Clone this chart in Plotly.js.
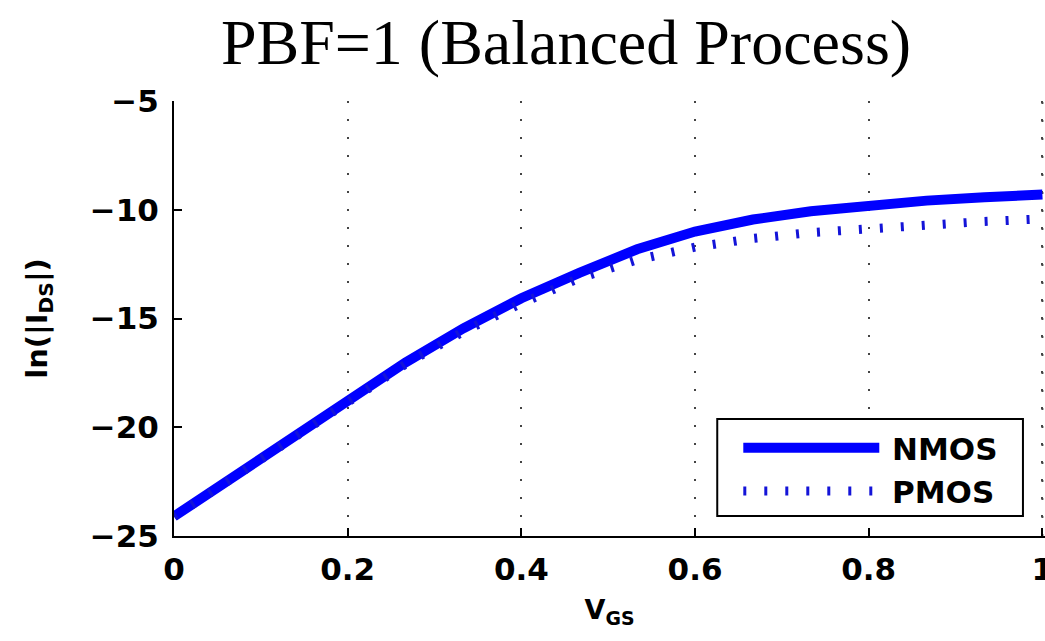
<!DOCTYPE html>
<html>
<head>
<meta charset="utf-8">
<script src="https://cdn.plot.ly/plotly-3.0.1.min.js"></script>
<style>html,body{margin:0;padding:0;background:#fff;}#chart{width:1045px;height:641px;}</style>
</head>
<body>
<div id="chart"></div>
<script>
// V_GS sample points
const vgs = [0, 0.0667, 0.1333, 0.2, 0.2667, 0.3333, 0.4, 0.4667, 0.5333, 0.6, 0.6667, 0.7333, 0.8, 0.8667, 0.9333, 1.0];
// ln(|I_DS|) values
const nmos = [-24.1, -22.34, -20.58, -18.82, -17.02, -15.45, -14.07, -12.9, -11.82, -11.0, -10.45, -10.07, -9.78, -9.58, -9.43, -9.3];
const pmos = [-24.1, -22.34, -20.58, -18.82, -17.1, -15.6, -14.3, -13.15, -12.3, -11.72, -11.32, -11.05, -10.85, -10.68, -10.54, -10.42];
const xTicks = [0, 0.2, 0.4, 0.6, 0.8, 1];
const xTickText = ['0', '0.2', '0.4', '0.6', '0.8', '1'];
const yTicks = [-25, -20, -15, -10, -5];
const yTickText = ['\u221225', '\u221220', '\u221215', '\u221210', '\u22125'];

const sans = 'DejaVu Sans, Verdana, sans-serif';
const PX = v => (v - 174) / 869;       // pixel helpers for legend box placement
const PY = v => (536 - v) / 435;

const traces = [
  {x: vgs, y: nmos, mode: 'lines', name: '\u2005<b>NMOS</b>',
   line: {color: '#0000ff', width: 10}},
  {x: vgs, y: pmos, mode: 'lines', name: '\u2005<b>PMOS</b>',
   line: {color: '#1414d8', width: 9, dash: '3px,18px'}}
];

const gridShapes = xTicks.slice(-1).map(v => ({
  type: 'line', xref: 'x', yref: 'paper', layer: 'below',
  x0: v, x1: v, y0: 0, y1: 1,
  line: {color: '#444', width: 2, dash: '2px,16px'}
}));

const layout = {
  width: 1045, height: 641,
  margin: {l: 174, r: 0, t: 101, b: 105},
  paper_bgcolor: '#fff', plot_bgcolor: '#fff',
  title: {text: 'PBF=1 (Balanced Process)', font: {family: 'Liberation Serif, Times New Roman, serif', size: 64, color: '#000'},
          x: 566/1045, xref: 'container', xanchor: 'center', y: 1 - 42/641, yref: 'container', yanchor: 'middle'},
  xaxis: {range: [0, 1.003], tickvals: xTicks, ticktext: xTickText,
          showline: true, linecolor: '#000', linewidth: 2, mirror: false,
          ticks: 'inside', ticklen: 8, tickwidth: 2, tickcolor: '#000',
          showgrid: true, gridcolor: '#444', gridwidth: 2, griddash: '2px,16px',
          zeroline: false, fixedrange: true, ticklabeloverflow: 'allow', ticklabelstandoff: 5,
          tickfont: {family: sans, size: 31, color: '#000', weight: 'bold'},
          title: {text: '<b>V<sub>GS</sub></b>', font: {family: sans, size: 27, color: '#000'}, standoff: 14}},
  yaxis: {range: [-25, -5], tickvals: yTicks, ticktext: yTickText,
          showline: true, linecolor: '#000', linewidth: 2, mirror: false,
          ticks: 'inside', ticklen: 8, tickwidth: 2, tickcolor: '#000',
          showgrid: false, zeroline: false, fixedrange: true, ticklabelstandoff: 7,
          tickfont: {family: sans, size: 31, color: '#000', weight: 'bold'},
          title: {text: '<b>ln(|I<sub>DS</sub>|)</b>', font: {family: sans, size: 29, color: '#000'}, standoff: 34}},
  shapes: gridShapes.concat([
    {type: 'rect', xref: 'paper', yref: 'paper', layer: 'above',
     x0: PX(716), x1: PX(1021), y0: PY(516), y1: PY(419),
     fillcolor: '#fff', line: {color: '#000', width: 2}}
  ]),
  showlegend: true,
  legend: {x: PX(737), y: PY(421), xanchor: 'left', yanchor: 'top',
           bgcolor: 'rgba(0,0,0,0)', borderwidth: 0,
           font: {family: sans, size: 31, color: '#000'}, itemwidth: 136}
};

Plotly.newPlot('chart', traces, layout, {staticPlot: true, displayModeBar: false});
</script>
</body>
</html>
